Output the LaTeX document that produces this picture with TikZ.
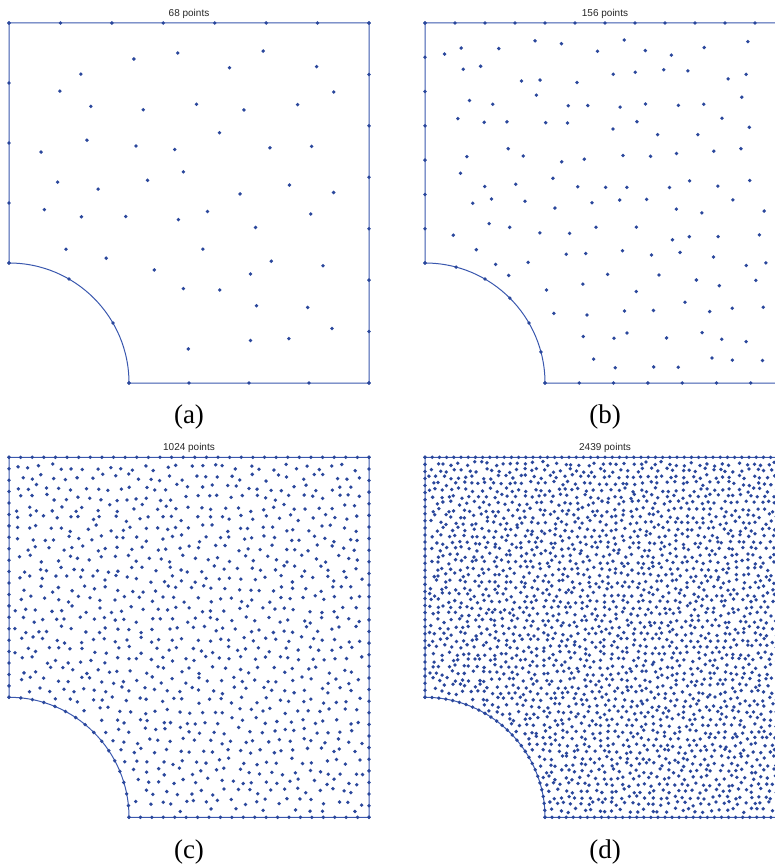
\documentclass[tikz,border=0pt]{standalone}
\usepackage{fontspec}
\setmainfont{Liberation Serif}
\newfontfamily\titlefont{Liberation Sans}
\usetikzlibrary{calc}
\definecolor{PointBlue}{HTML}{2A479C}
\definecolor{RimBlue}{HTML}{3A58AE}

% interior points: jittered hexagonal lattice (#1,#2 corner, #3 spacing, #4 seed)
\newcommand{\cloudpoints}[4]{%
  \pgfmathsetseed{#4}%
  \pgfmathsetmacro{\rowh}{0.866*#3}%
  \pgfmathtruncatemacro{\ncol}{360/#3+1}%
  \pgfmathtruncatemacro{\nrow}{360/\rowh+1}%
  \foreach \j in {0,...,\nrow}{%
    \foreach \i in {0,...,\ncol}{%
      \pgfmathsetmacro{\px}{(\i+0.5*mod(\j,2))*#3+0.3*#3*rand}%
      \pgfmathsetmacro{\py}{\j*\rowh+0.3*#3*rand}%
      \pgfmathsetmacro{\keep}{(\px>0.5*#3) && (\px<360-0.5*#3) && (\py>0.5*#3) && (\py<360-0.5*#3) && (veclen(\px,360-(\py))>120+0.5*#3)}%
      \ifdim\keep pt>0.5pt \fill[cloudpt] (#1+\px,#2+\py) circle[radius=1.9pt];\fi
    }%
  }%
}

% boundary and its points (#3 top/right, #4 bottom/left, #5 arc segments)
\newcommand{\domainrim}[5]{%
  \draw[rim] (#1,#2) -- ++(360,0) -- ++(0,360) -- ++(-240,0)
    arc[start angle=0,end angle=90,radius=120pt] -- cycle;
  \foreach \k in {0,...,#3}{
    \fill[cloudpt] (#1+360/#3*\k,#2) circle[radius=1.9pt];
    \fill[cloudpt] (#1+360,#2+360/#3*\k) circle[radius=1.9pt];
  }
  \foreach \k in {0,...,#4}{
    \fill[cloudpt] (#1+120+240/#4*\k,#2+360) circle[radius=1.9pt];
    \fill[cloudpt] (#1,#2+240/#4*\k) circle[radius=1.9pt];
  }
  \foreach \k in {0,...,#5}{
    \fill[cloudpt] ({#1+120*cos(90/#5*\k)},{#2+360-120*sin(90/#5*\k)}) circle[radius=1.9pt];
  }
}

\begin{document}
\begin{tikzpicture}[x=1pt,y=-1pt,
    cloudpt/.style={fill=PointBlue},
    rim/.style={draw=RimBlue, line width=1pt},
    paneltitle/.style={font=\titlefont\fontsize{10}{12}\selectfont, text=black!85, inner sep=0pt},
    panellabel/.style={font=\fontsize{27}{30}\selectfont, inner sep=0pt}
  ]
  \useasboundingbox (0,0) rectangle (775,866);

  % (a)
  \domainrim{9}{23}{7}{4}{3}
  \cloudpoints{9}{23}{46}{11}
  \node[paneltitle] (titlea) at (189,13.5) {68 points};
  \node[panellabel] (capa) at (189,417.5) {(a)};

  % (b)
  \domainrim{425}{23}{12}{7}{6}
  \cloudpoints{425}{23}{30}{23}
  \node[paneltitle] (titleb) at (605,13.5) {156 points};
  \node[panellabel] (capb) at (605,417.5) {(b)};

  % (c)
  \domainrim{9}{457.3}{31}{21}{16}
  \cloudpoints{9}{457.3}{11.7}{37}
  \node[paneltitle] (titlec) at (189,447.8) {1024 points};
  \node[panellabel] (capc) at (189,851.5) {(c)};

  % (d)
  \domainrim{425}{457.3}{50}{34}{27}
  \cloudpoints{425}{457.3}{7.55}{41}
  \node[paneltitle] (titled) at (605,447.8) {2439 points};
  \node[panellabel] (capd) at (605,851.5) {(d)};
\end{tikzpicture}
\end{document}
